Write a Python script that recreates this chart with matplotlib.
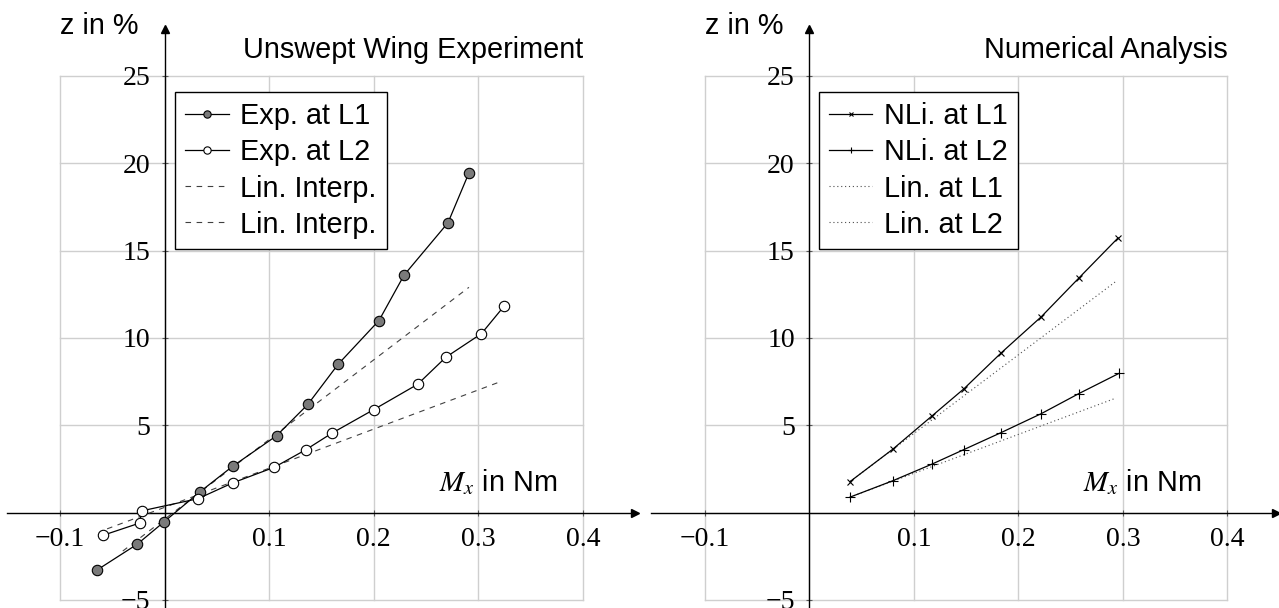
import numpy as np
import matplotlib
matplotlib.use("Agg")
import matplotlib.pyplot as plt

plt.rcParams['font.family'] = ['Liberation Sans', 'DejaVu Sans']
plt.rcParams['mathtext.fontset'] = 'stix'

# experiment (left)
exp_l1_x = [-0.065, -0.026, -0.001, 0.034, 0.065, 0.107, 0.137, 0.166, 0.205, 0.229, 0.271, 0.291]
exp_l1_z = [-3.3, -1.8, -0.55, 1.2, 2.65, 4.4, 6.2, 8.5, 11.0, 13.6, 16.6, 19.45]
exp_l2_x = [-0.059, -0.024, -0.022, 0.032, 0.065, 0.105, 0.135, 0.160, 0.200, 0.242, 0.269, 0.303, 0.325]
exp_l2_z = [-1.3, -0.6, 0.1, 0.8, 1.7, 2.6, 3.6, 4.55, 5.9, 7.35, 8.9, 10.25, 11.85]
lin1_x = [-0.04, 0.291]
lin1_z = [-2.2, 12.9]
lin2_x = [-0.055, 0.3185]
lin2_z = [-0.93, 7.44]

# numerical (right)
nli_l1_x = [0.039, 0.0796, 0.1178, 0.1479, 0.1838, 0.222, 0.258, 0.2954]
nli_l1_z = [1.78, 3.62, 5.56, 7.09, 9.16, 11.22, 13.44, 15.73]
nli_l2_x = [0.039, 0.0796, 0.1174, 0.1475, 0.1834, 0.222, 0.258, 0.2965]
nli_l2_z = [0.89, 1.82, 2.78, 3.6, 4.58, 5.67, 6.82, 7.98]
linn1_x = [0.039, 0.294]
linn1_z = [1.78, 13.27]
linn2_x = [0.039, 0.2934]
linn2_z = [0.89, 6.56]

xticks = [-0.1, 0.1, 0.2, 0.3, 0.4]
yticks = [-5, 5, 10, 15, 20, 25]

W, H = 1279, 608
FS = 20.8
fig = plt.figure(figsize=(W / 100, H / 100), dpi=100)


def setup(ax, title):
    # grid only over [-0.1, 0.4] x [-5, 25]
    for gx in np.arange(-0.1, 0.41, 0.1):
        ax.plot([gx, gx], [-5, 25], color='#cfcfcf', lw=1.0, zorder=0)
    for gy in range(-5, 26, 5):
        ax.plot([-0.1, 0.4], [gy, gy], color='#cfcfcf', lw=1.0, zorder=0)
    for s in ['top', 'right']:
        ax.spines[s].set_visible(False)
    ax.spines['left'].set_position(('data', 0))
    ax.spines['bottom'].set_position(('data', 0))
    ax.spines['left'].set_linewidth(1.0)
    ax.spines['bottom'].set_linewidth(1.0)
    ax.set_xticks(xticks)
    ax.set_xticklabels([f"{t:.1f}".replace('-', '\u2212') for t in xticks])
    ax.set_yticks(yticks)
    ax.set_yticklabels([str(t).replace('-', '\u2212') for t in yticks])
    ax.tick_params(direction='inout', length=5, width=0.8, color='0.35',
                   labelsize=20, pad=8)
    for lab in ax.get_xticklabels() + ax.get_yticklabels():
        lab.set_fontfamily('Liberation Serif')
    ax.plot(1, 0, '>k', ms=6, transform=ax.get_yaxis_transform(), clip_on=False)
    ax.plot(0, 1, '^k', ms=6, transform=ax.get_xaxis_transform(), clip_on=False)
    ax.text(-0.025, 27.4, 'z in %', fontsize=FS, ha='right', va='baseline')
    ax.text(0.4, 26.03, title, fontsize=FS, ha='right', va='baseline')
    ax.text(0.3755, 1.24, '$M_x$ in Nm', fontsize=FS, ha='right', va='baseline')
    ax.set_facecolor('none')


ylim = (-5.46, 27.69)

ax1 = fig.add_axes([7 / W, 0, 628 / W, 579 / H])
ax1.set_xlim(-0.1507, 0.4498)
ax1.set_ylim(*ylim)
setup(ax1, 'Unswept Wing Experiment')
ax1.plot(exp_l1_x, exp_l1_z, '-o', color='k', lw=0.9, mfc='#7a7a7a', mec='k',
         mew=0.8, ms=7.5, label='Exp. at L1', zorder=4)
ax1.plot(exp_l2_x, exp_l2_z, '-o', color='k', lw=0.9, mfc='white', mec='k',
         mew=0.8, ms=7.5, label='Exp. at L2', zorder=4)
ax1.plot(lin1_x, lin1_z, color='0.25', lw=0.8, dashes=(5, 5), label='Lin. Interp.', zorder=3)
ax1.plot(lin2_x, lin2_z, color='0.25', lw=0.8, dashes=(5, 5), label='Lin. Interp.', zorder=3)

ax2 = fig.add_axes([651 / W, 0, 625 / W, 579 / H])
ax2.set_xlim(-0.1515, 0.4465)
ax2.set_ylim(*ylim)
setup(ax2, 'Numerical Analysis')
ax2.plot(nli_l1_x, nli_l1_z, '-x', color='k', lw=0.9, ms=5, mew=0.8, label='NLi. at L1', zorder=4)
ax2.plot(nli_l2_x, nli_l2_z, '-+', color='k', lw=0.9, ms=7, mew=0.8, label='NLi. at L2', zorder=4)
ax2.plot(linn1_x, linn1_z, color='0.3', lw=0.8, dashes=(1, 2.5), label='Lin. at L1', zorder=3)
ax2.plot(linn2_x, linn2_z, color='0.3', lw=0.8, dashes=(1, 2.5), label='Lin. at L2', zorder=3)

for ax, x0 in [(ax1, 0.010), (ax2, 0.009)]:
    leg = ax.legend(loc='upper left', bbox_to_anchor=(x0, 24.07), bbox_transform=ax.transData,
                    fontsize=FS, frameon=True, fancybox=False, framealpha=1,
                    edgecolor='k', borderpad=0.35, labelspacing=0.28, handlelength=1.5,
                    handletextpad=0.4, borderaxespad=0, markerscale=0.7, numpoints=1)
    leg.get_frame().set_linewidth(1.0)
    leg.set_zorder(5)

fig.savefig('out.png', dpi=100)
